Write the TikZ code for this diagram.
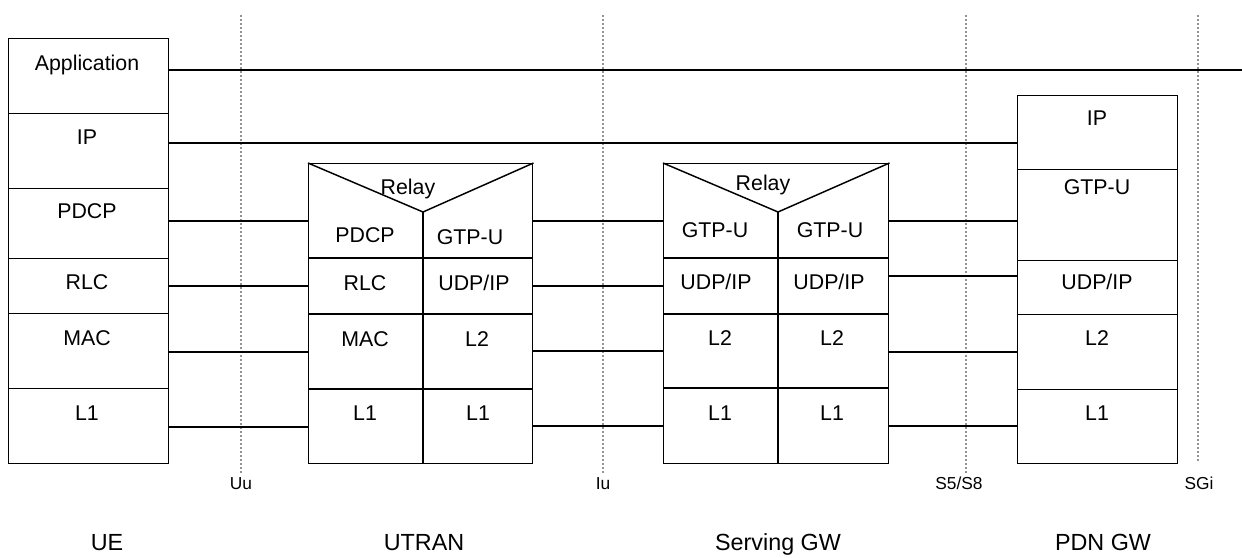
\documentclass[tikz,border=0pt]{standalone}
\usepackage{fontspec}
\setmainfont{Liberation Sans}
\tikzset{
  layer/.style={draw, line width=1.1pt, anchor=north west, inner sep=0pt, minimum width=120pt, minimum height=#1},
  stack/.style={draw, line width=1.1pt, anchor=north west, inner sep=0pt, minimum height=225pt},
  txt/.style={font=\fontsize{16}{19}\selectfont, inner sep=0pt, text height=11.5pt, text depth=0pt},
  iftxt/.style={font=\fontsize{13}{15}\selectfont, inner sep=0pt, text height=9.3pt, text depth=0pt},
  entity/.style={font=\fontsize{17.5}{21}\selectfont, inner sep=0pt, text height=12.6pt, text depth=0pt},
  iface/.style={draw=gray!85, line width=1.5pt, dash pattern=on 1.5pt off 1.5pt},
  link/.style={line width=0.9pt}
}
\begin{document}
\begin{tikzpicture}[x=0.75pt,y=0.75pt,yscale=-1,xscale=1]
  \useasboundingbox (0,0) rectangle (1242,557);
  % interfaces
  \coordinate (uutop) at (241,15);  \coordinate (uubot) at (241,473);
  \coordinate (iutop) at (603,15);  \coordinate (iubot) at (603,475);
  \coordinate (s5top) at (966,15);  \coordinate (s5bot) at (966,474);
  \coordinate (sgitop) at (1198,15); \coordinate (sgibot) at (1198,462);
  \draw[iface] (uutop) -- (uubot);
  \draw[iface] (iutop) -- (iubot);
  \draw[iface] (s5top) -- (s5bot);
  \draw[iface] (sgitop) -- (sgibot);
  \node[iftxt] (uu) at (241,483) {Uu};
  \node[iftxt] (iu) at (603,483) {Iu};
  \node[iftxt] (s5s8) at (959,483) {S5/S8};
  \node[iftxt] (sgi) at (1199,483) {SGi};
  % UE
  \node[layer=56.25pt] (ueapp) at (8,38) {};
  \node[layer=56.25pt] (ueip) at (8,113) {};
  \node[layer=52.5pt] (uepdcp) at (8,188) {};
  \node[layer=41.25pt] (uerlc) at (8,258) {};
  \node[layer=56.25pt] (uemac) at (8,313) {};
  \node[layer=56.25pt] (uel1) at (8,388) {};
  \node[txt] (ueappt) at (87,63) {Application};
  \node[txt] (ueipt) at (87,137) {IP};
  \node[txt] (uepdcpt) at (87,211) {PDCP};
  \node[txt] (uerlct) at (87,282) {RLC};
  \node[txt] (uemact) at (87,338) {MAC};
  \node[txt] (uel1t) at (87,413) {L1};
  % UTRAN
  \node[stack, minimum width=168pt] (utran) at (308,163) {};
  \coordinate (utv) at (423,212);
  \draw[line width=1.1pt] (utran.north west) -- (utv) -- (utran.north east);
  \draw[line width=1.1pt] (utv) -- (utv |- utran.south);
  \draw[line width=1.1pt] (utran.west |- 0,258) -- (utran.east |- 0,258);
  \draw[line width=1.1pt] (utran.west |- 0,314) -- (utran.east |- 0,314);
  \draw[line width=1.1pt] (utran.west |- 0,389) -- (utran.east |- 0,389);
  \node[txt] (utrelay) at (408,187) {Relay};
  \node[txt] (utpdcp) at (365,235) {PDCP};
  \node[txt] (utgtp) at (470,237) {GTP-U};
  \node[txt] (utrlc) at (365,283) {RLC};
  \node[txt] (utudp) at (474,283) {UDP/IP};
  \node[txt] (utmac) at (365,339) {MAC};
  \node[txt] (utl2) at (477,339) {L2};
  \node[txt] (utl1a) at (365,413) {L1};
  \node[txt] (utl1b) at (478,413) {L1};
  % Serving GW
  \node[stack, minimum width=168.75pt] (sgw) at (663,163) {};
  \coordinate (sgv) at (778,212);
  \draw[line width=1.1pt] (sgw.north west) -- (sgv) -- (sgw.north east);
  \draw[line width=1.1pt] (sgv) -- (sgv |- sgw.south);
  \draw[line width=1.1pt] (sgw.west |- 0,258) -- (sgw.east |- 0,258);
  \draw[line width=1.1pt] (sgw.west |- 0,314) -- (sgw.east |- 0,314);
  \draw[line width=1.1pt] (sgw.west |- 0,388) -- (sgw.east |- 0,388);
  \node[txt] (sgrelay) at (763,183) {Relay};
  \node[txt] (sggtpa) at (715,230) {GTP-U};
  \node[txt] (sggtpb) at (830,230) {GTP-U};
  \node[txt] (sgudpa) at (716,282) {UDP/IP};
  \node[txt] (sgudpb) at (829,282) {UDP/IP};
  \node[txt] (sgl2a) at (720,338) {L2};
  \node[txt] (sgl2b) at (832,338) {L2};
  \node[txt] (sgl1a) at (720,413) {L1};
  \node[txt] (sgl1b) at (832,413) {L1};
  % PDN GW
  \node[layer=55.5pt] (pdnip) at (1017,95) {};
  \node[layer=68.25pt] (pdngtp) at (1017,169) {};
  \node[layer=40.5pt] (pdnudp) at (1017,260) {};
  \node[layer=56.25pt] (pdnl2) at (1017,314) {};
  \node[layer=55.5pt] (pdnl1) at (1017,389) {};
  \node[txt] (pdnipt) at (1097,118) {IP};
  \node[txt] (pdngtpt) at (1097,187) {GTP-U};
  \node[txt] (pdnudpt) at (1097,282) {UDP/IP};
  \node[txt] (pdnl2t) at (1097,338) {L2};
  \node[txt] (pdnl1t) at (1097,413) {L1};
  % peer links
  \coordinate (append) at (1242,70);
  \draw[link] (ueapp.east |- append) -- (append);
  \draw[link] (ueip.east |- 0,143) -- (pdnip.west |- 0,143);
  \draw[link] (uepdcp.east |- 0,221) -- (utran.west |- 0,221);
  \draw[link] (uerlc.east |- 0,286) -- (utran.west |- 0,286);
  \draw[link] (uemac.east |- 0,352) -- (utran.west |- 0,352);
  \draw[link] (uel1.east |- 0,427) -- (utran.west |- 0,427);
  \draw[link] (utran.east |- 0,221) -- (sgw.west |- 0,221);
  \draw[link] (utran.east |- 0,286) -- (sgw.west |- 0,286);
  \draw[link] (utran.east |- 0,351) -- (sgw.west |- 0,351);
  \draw[link] (utran.east |- 0,426) -- (sgw.west |- 0,426);
  \draw[link] (sgw.east |- 0,221) -- (pdngtp.west |- 0,221);
  \draw[link] (sgw.east |- 0,276) -- (pdnudp.west |- 0,276);
  \draw[link] (sgw.east |- 0,352) -- (pdnl2.west |- 0,352);
  \draw[link] (sgw.east |- 0,426) -- (pdnl1.west |- 0,426);
  % entities
  \node[entity] (ue) at (107,542) {UE};
  \node[entity] (utranl) at (424,542) {UTRAN};
  \node[entity] (sgwl) at (778,542) {Serving GW};
  \node[entity] (pdnl) at (1103,542) {PDN GW};
\end{tikzpicture}
\end{document}
